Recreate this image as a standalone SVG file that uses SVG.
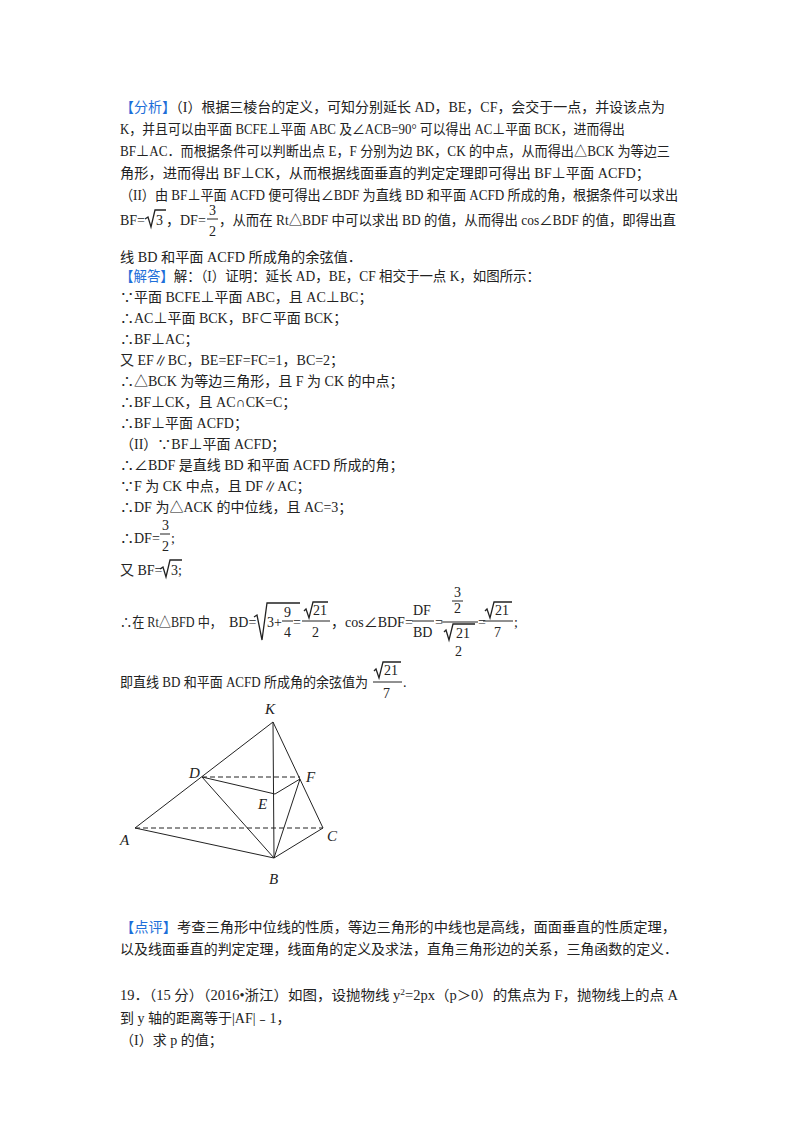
<svg xmlns="http://www.w3.org/2000/svg" width="800" height="1132" viewBox="0 0 800 1132">
<style>
text{font-family:"Liberation Serif","Noto Sans CJK SC",serif;font-size:14px;fill:#222}
.b{fill:#1e6fd9}
.l{font-family:"Liberation Serif",serif;font-style:italic;font-size:15px}
.ln{stroke:#222;stroke-width:1;fill:none}
.d{stroke:#222;stroke-width:1;fill:none;stroke-dasharray:5,3}
.s{stroke:#222;stroke-width:1.3;fill:none}
</style>
<rect width="800" height="1132" fill="#fff"/>
<g id="text">
<text x="120" y="112" textLength="545" lengthAdjust="spacingAndGlyphs"><tspan class="b">【分析】</tspan>（I）根据三棱台的定义，可知分别延长 AD，BE，CF，会交于一点，并设该点为</text>
<text x="120" y="134" textLength="505" lengthAdjust="spacingAndGlyphs">K，并且可以由平面 BCFE⊥平面 ABC 及∠ACB=90° 可以得出 AC⊥平面 BCK，进而得出</text>
<text x="120" y="156" textLength="550" lengthAdjust="spacingAndGlyphs">BF⊥AC．而根据条件可以判断出点 E，F 分别为边 BK，CK 的中点，从而得出△BCK 为等边三</text>
<text x="120" y="178" textLength="530" lengthAdjust="spacingAndGlyphs">角形，进而得出 BF⊥CK，从而根据线面垂直的判定定理即可得出 BF⊥平面 ACFD；</text>
<text x="120" y="200" textLength="558" lengthAdjust="spacingAndGlyphs">（II）由 BF⊥平面 ACFD 便可得出∠BDF 为直线 BD 和平面 ACFD 所成的角，根据条件可以求出</text>
<text x="120" y="225">BF=</text>
<path class="s" d="M145,219 L148,217 L151,227 L155,210 L166,210"/>
<text x="156" y="225">3</text>
<text x="166" y="225">，DF=</text>
<text x="209" y="215">3</text><path class="ln" d="M207,219 H218"/><text x="209" y="236">2</text>
<text x="219" y="225" textLength="457" lengthAdjust="spacingAndGlyphs">，从而在 Rt△BDF 中可以求出 BD 的值，从而得出 cos∠BDF 的值，即得出直</text>
<text x="120" y="262" textLength="242" lengthAdjust="spacingAndGlyphs">线 BD 和平面 ACFD 所成角的余弦值．</text>
<text x="120" y="281" textLength="420" lengthAdjust="spacingAndGlyphs"><tspan class="b">【解答】</tspan>解：（I）证明：延长 AD，BE，CF 相交于一点 K，如图所示：</text>
<text x="120" y="302">∵平面 BCFE⊥平面 ABC，且 AC⊥BC；</text>
<text x="120" y="323">∴AC⊥平面 BCK，BF⊂平面 BCK；</text>
<text x="120" y="344">∴BF⊥AC；</text>
<text x="120" y="365">又 EF∥BC，BE=EF=FC=1，BC=2；</text>
<text x="120" y="386">∴△BCK 为等边三角形，且 F 为 CK 的中点；</text>
<text x="120" y="407">∴BF⊥CK，且 AC∩CK=C；</text>
<text x="120" y="428">∴BF⊥平面 ACFD；</text>
<text x="120" y="449">（II）∵BF⊥平面 ACFD；</text>
<text x="120" y="470">∴∠BDF 是直线 BD 和平面 ACFD 所成的角；</text>
<text x="120" y="491">∵F 为 CK 中点，且 DF∥AC；</text>
<text x="120" y="512">∴DF 为△ACK 的中位线，且 AC=3；</text>
<text x="120" y="543">∴DF=</text>
<text x="162" y="530">3</text><path class="ln" d="M160,534 H170"/><text x="162" y="551">2</text>
<text x="171" y="543">;</text>
<text x="120" y="575">又 BF=</text>
<path class="s" d="M160,569 L163,567 L166,577 L170,560 L182,560"/>
<text x="171" y="575">3;</text>
<text x="120" y="627" textLength="102" lengthAdjust="spacingAndGlyphs">∴在 Rt△BFD 中，</text>
<text x="229" y="627">BD=</text>
<path class="s" d="M254,617 L257,615 L262,640 L267,603 L300,603"/>
<text x="267" y="627">3+</text>
<text x="284" y="617">9</text><path class="ln" d="M282,621 H293"/><text x="284" y="637">4</text>
<text x="293" y="627">=</text>
<path class="s" d="M304,611 L306,609 L309,618 L313,602 L328,602"/>
<text x="313" y="615">21</text><path class="ln" d="M302,621 H330"/><text x="312" y="637">2</text>
<text x="331" y="627">，cos∠BDF=</text>
<text x="413" y="615">DF</text><path class="ln" d="M412,621 H434"/><text x="413" y="637">BD</text>
<text x="435" y="627">=</text>
<text x="454" y="597">3</text><path class="ln" d="M452,601 H463"/><text x="454" y="613">2</text>
<path class="ln" d="M441,622 H478" stroke-width="1.5"/>
<path class="s" d="M444,632 L446,630 L449,640 L453,624 L475,624"/>
<text x="456" y="638">21</text><text x="455" y="656">2</text>
<text x="478" y="627">=</text>
<path class="s" d="M485,611 L487,609 L490,618 L494,602 L512,602"/>
<text x="495" y="615">21</text><path class="ln" d="M483,621 H513"/><text x="494" y="637">7</text>
<text x="514" y="627">;</text>
<text x="120" y="687" textLength="248" lengthAdjust="spacingAndGlyphs">即直线 BD 和平面 ACFD 所成角的余弦值为</text>
<path class="s" d="M374,671 L376,669 L379,678 L383,662 L401,662"/>
<text x="384" y="675">21</text><path class="ln" d="M373,682 H402"/><text x="383" y="698">7</text>
<text x="403" y="687">.</text>
<text x="120" y="932" textLength="556" lengthAdjust="spacingAndGlyphs"><tspan class="b">【点评】</tspan>考查三角形中位线的性质，等边三角形的中线也是高线，面面垂直的性质定理，</text>
<text x="120" y="954" textLength="558" lengthAdjust="spacingAndGlyphs">以及线面垂直的判定定理，线面角的定义及求法，直角三角形边的关系，三角函数的定义．</text>
<text x="120" y="1000" textLength="558" lengthAdjust="spacingAndGlyphs">19．（15 分）（2016•浙江）如图，设抛物线 y<tspan dy="-5" font-size="9">2</tspan><tspan dy="5">=2px（p＞0）的焦点为 F，抛物线上的点 A</tspan></text>
<text x="120" y="1023">到 y 轴的距离等于|AF|﹣1，</text>
<text x="120" y="1045">（I）求 p 的值；</text>
</g>
<g id="connectors">
<path class="ln" d="M273,722 L135,828 L274,858 L323,828 L273,722 Z"/>
<path class="ln" d="M273,722 L274,858"/>
<path class="ln" d="M202,777 L274,858 M202,777 L275,794 L300,779 L274,858"/>
<path class="d" d="M135,828 H323 M202,777 H300"/>
</g>
<g id="labels">
<text class="l" x="265" y="714">K</text>
<text class="l" x="189" y="778">D</text>
<text class="l" x="306" y="782">F</text>
<text class="l" x="258" y="809">E</text>
<text class="l" x="120" y="845">A</text>
<text class="l" x="327" y="841">C</text>
<text class="l" x="269" y="884">B</text>
</g>
</svg>
